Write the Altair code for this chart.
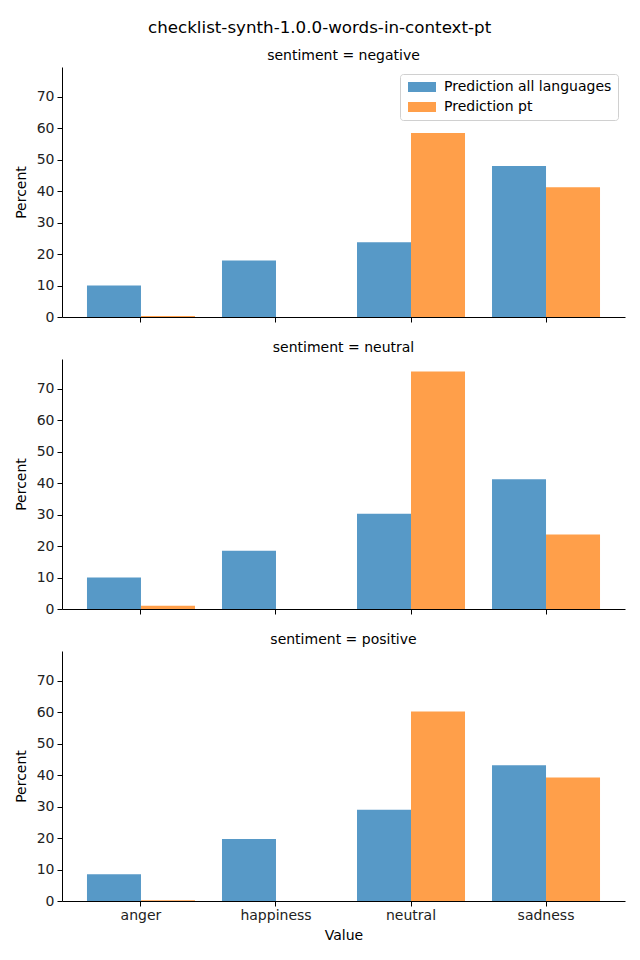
import altair as alt
import pandas as pd

categories = ["anger", "happiness", "neutral", "sadness"]
sentiments = ["negative", "neutral", "positive"]
series = ["Prediction all languages", "Prediction pt"]

all_negative = [10.0, 18.0, 23.8, 48.0]
pt_negative = [0.3, 0.0, 58.5, 41.3]
all_neutral = [10.0, 18.5, 30.3, 41.3]
pt_neutral = [1.0, 0.0, 75.5, 23.7]
all_positive = [8.5, 19.7, 29.0, 43.2]
pt_positive = [0.2, 0.0, 60.3, 39.3]

values = {
    "negative": (all_negative, pt_negative),
    "neutral": (all_neutral, pt_neutral),
    "positive": (all_positive, pt_positive),
}

rows = []
for s in sentiments:
    a, p = values[s]
    for i, c in enumerate(categories):
        rows.append({"sentiment": s, "Value": c, "series": series[0], "Percent": a[i]})
        rows.append({"sentiment": s, "Value": c, "series": series[1], "Percent": p[i]})
df = pd.DataFrame(rows)

FONT = "DejaVu Sans"
colors = ["#5799c7", "#ff9f4a"]


def panel(s, first, last):
    base = alt.Chart(df[df["sentiment"] == s])
    legend = None
    if first:
        legend = alt.Legend(
            title=None, orient="top-right", offset=7,
            fillColor="white", strokeColor="#d0d0d0", cornerRadius=3,
            padding=6, labelFontSize=14, labelFont=FONT, labelColor="black",
            labelLimit=0,
            symbolType="M-1,-1H4.6V1H-1Z", symbolSize=100, symbolStrokeWidth=0,
            symbolOpacity=1, rowPadding=6, labelOffset=24,
        )
    xaxis = alt.Axis(
        title="Value" if last else None,
        labels=last, labelAngle=0, domainColor="black", tickColor="black",
        tickSize=5, labelPadding=2, labelFontSize=14, labelFont=FONT,
        labelColor="#222222", titleFontSize=14, titleFont=FONT,
        titleFontWeight="normal", titleColor="black", titlePadding=6,
    )
    yaxis = alt.Axis(
        title="Percent", values=[0, 10, 20, 30, 40, 50, 60, 70], grid=False,
        domainColor="black", tickColor="black", tickSize=5, labelPadding=3,
        labelFontSize=14, labelFont=FONT, labelColor="#222222",
        titleFontSize=14, titleFont=FONT, titleFontWeight="normal",
        titleColor="black", titlePadding=8,
    )
    return base.mark_bar().encode(
        x=alt.X("Value:N", sort=categories, axis=xaxis,
                scale=alt.Scale(paddingInner=0.2, paddingOuter=0.185)),
        xOffset=alt.XOffset("series:N", sort=series),
        y=alt.Y("Percent:Q", axis=yaxis, scale=alt.Scale(domain=[0, 79.5], nice=False, zero=True)),
        color=alt.Color("series:N", sort=series,
                        scale=alt.Scale(domain=series, range=colors), legend=legend),
    ).properties(
        width=563, height=250,
        title=alt.TitleParams(f"sentiment = {s}", fontSize=14, font=FONT,
                              fontWeight="normal", color="black", offset=4),
    )


chart = alt.vconcat(
    panel("negative", True, False),
    panel("neutral", False, False),
    panel("positive", False, True),
    spacing=17,
).properties(
    title=alt.TitleParams("checklist-synth-1.0.0-words-in-context-pt", fontSize=16.7,
                          font=FONT, fontWeight="normal", color="black",
                          anchor="middle", offset=12),
    padding={"left": 6, "top": 12, "right": 5, "bottom": 5},
    background="white",
).configure_view(strokeWidth=0, stroke=None)

chart.save("out.html", embed_options={"renderer": "svg", "actions": False})
